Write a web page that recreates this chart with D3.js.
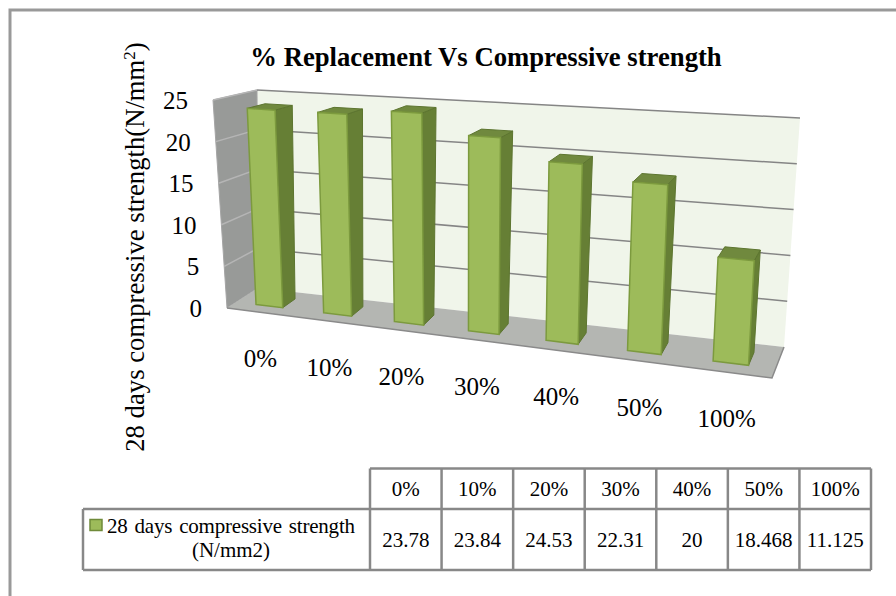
<!DOCTYPE html>
<html>
<head>
<meta charset="utf-8">
<script src="https://cdn.jsdelivr.net/npm/d3@7"></script>
<style>
  html, body { margin: 0; padding: 0; background: #fff; }
  svg { display: block; }
  text { font-family: "Liberation Serif", serif; fill: #000; }
</style>
</head>
<body>
<div id="chart"></div>
<script>
const categories = ["0%", "10%", "20%", "30%", "40%", "50%", "100%"];
const strength = [23.78, 23.84, 24.53, 22.31, 20, 18.468, 11.125];
const tableLabels = ["23.78", "23.84", "24.53", "22.31", "20", "18.468", "11.125"];
const yTicks = [0, 5, 10, 15, 20, 25];

const width = 896, height = 596;

const svg = d3.select("#chart").append("svg")
  .attr("width", width)
  .attr("height", height);

// outer frame, runs off the picture on the right and at the bottom
svg.append("path")
  .attr("d", "M10,596V10H896")
  .attr("fill", "none")
  .attr("stroke", "#999")
  .attr("stroke-width", 3);

// box of the 3d plot: floor corners and the height vector at each of them
const floor = { fl: [227, 308], fr: [772, 378], bl: [258, 288], br: [784, 347] };
const rise = { fl: [-14, -208], fr: [13, -240], bl: [-1, -198], br: [16, -229] };

const band = d3.scaleBand().domain(categories).range([0, 1]).paddingInner(0.6).paddingOuter(0.3);
const yScale = d3.scaleLinear().domain([0, 25]).range([0, 1]);

// perspective squeeze along the floor
const K = 1.18;
const warp = u => u / (u + K * (1 - u));

function bilerp(c, t, v) {
  return [0, 1].map(i => {
    const front = c.fl[i] + (c.fr[i] - c.fl[i]) * t;
    const back = c.bl[i] + (c.br[i] - c.bl[i]) * t;
    return front + (back - front) * v;
  });
}

function project(u, v, value) {
  const t = warp(u), h = yScale(value);
  const f = bilerp(floor, t, v), r = bilerp(rise, t, v);
  return [f[0] + r[0] * h, f[1] + r[1] * h];
}

const line = d3.line();
const poly = pts => line(pts) + "Z";

const walls = svg.append("g");

walls.append("path")
  .attr("d", poly([project(0, 1, 0), project(1, 1, 0), project(1, 1, 25), project(0, 1, 25)]))
  .attr("fill", "#f0f5ea");

walls.append("path")
  .attr("d", poly([project(0, 0, 0), project(0, 1, 0), project(0, 1, 25), project(0, 0, 25)]))
  .attr("fill", "#989a98")
  .attr("stroke", "#a5a5a5");

walls.append("path")
  .attr("d", poly([project(0, 0, 0), project(1, 0, 0), project(1, 1, 0), project(0, 1, 0)]))
  .attr("fill", "#b4b6b2");

// front edge of the floor
walls.append("path")
  .attr("d", line([project(0, 0, 0), project(1, 0, 0), project(1, 1, 0)]))
  .attr("fill", "none")
  .attr("stroke", "#8a8a8a")
  .attr("stroke-width", 1.5);

// gridlines: pale on the side wall, darker on the back wall
walls.selectAll(".gridSide")
  .data(yTicks.filter(d => d > 0))
  .enter().append("path")
  .attr("class", "gridSide")
  .attr("d", d => line([project(0, 0, d), project(0, 1, d)]))
  .attr("fill", "none")
  .attr("stroke", "#b5b5b5")
  .attr("stroke-width", 1.5);

walls.selectAll(".grid")
  .data(yTicks.filter(d => d > 0))
  .enter().append("path")
  .attr("class", "grid")
  .attr("d", d => line([project(0, 1, d), project(1, 1, d)]))
  .attr("fill", "none")
  .attr("stroke", "#858585")
  .attr("stroke-width", 1.5);

// y tick labels
svg.selectAll(".ytick")
  .data(yTicks)
  .enter().append("text")
  .attr("class", "ytick")
  .attr("x", d => project(0, 0, d)[0] - 25)
  .attr("y", d => project(0, 0, d)[1] + 9)
  .attr("text-anchor", "end")
  .style("font-size", "25px")
  .text(d => d);

// bars
const V0 = 0.3, V1 = 0.72;
const bars = svg.selectAll(".bar")
  .data(categories.map((c, i) => ({ c, value: strength[i] })))
  .enter().append("g")
  .attr("class", "bar");

bars.append("path")
  .attr("d", d => {
    const u = band(d.c) + band.bandwidth();
    return poly([project(u, V0, 0), project(u, V1, 0), project(u, V1, d.value), project(u, V0, d.value)]);
  })
  .attr("fill", "#667f35")
  .attr("stroke", "#5d7530");

bars.append("path")
  .attr("d", d => {
    const a = band(d.c), b = a + band.bandwidth();
    return poly([project(a, V0, d.value), project(b, V0, d.value), project(b, V1, d.value), project(a, V1, d.value)]);
  })
  .attr("fill", "#70893e")
  .attr("stroke", "#5d7530");

bars.append("path")
  .attr("d", d => {
    const a = band(d.c), b = a + band.bandwidth();
    return poly([project(a, V0, 0), project(b, V0, 0), project(b, V0, d.value), project(a, V0, d.value)]);
  })
  .attr("fill", "#9dbb5a")
  .attr("stroke", "#7c9a3e")
  .attr("stroke-width", 1.5);

// category labels under the floor
svg.selectAll(".xlabel")
  .data(categories)
  .enter().append("text")
  .attr("class", "xlabel")
  .attr("x", d => project(band(d) + band.bandwidth() / 2, 0, 0)[0])
  .attr("y", d => project(band(d) + band.bandwidth() / 2, 0, 0)[1] + 55)
  .attr("text-anchor", "middle")
  .style("font-size", "25px")
  .text(d => d);

// titles
svg.append("text")
  .attr("x", 486)
  .attr("y", 66)
  .attr("text-anchor", "middle")
  .style("font-size", "26.7px")
  .style("font-weight", "bold")
  .text("% Replacement Vs Compressive strength");

const yTitle = svg.append("text")
  .attr("transform", "translate(144,247) rotate(-90)")
  .attr("text-anchor", "middle")
  .style("font-size", "26.7px");
yTitle.append("tspan").text("28 days compressive strength(N/mm");
yTitle.append("tspan").attr("dy", -9).style("font-size", "17px").text("2");
yTitle.append("tspan").attr("dy", 9).text(")");

// data table
const tableX = d3.scaleBand().domain(categories).range([370, 871]);
const rowTop = 468.5, rowMid = 509, rowBottom = 570, tableLeft = 83;
const table = svg.append("g")
  .attr("fill", "none")
  .attr("stroke", "#888")
  .attr("stroke-width", 2.5);

table.append("path").attr("d", `M${tableX.range()[0]},${rowTop}H${tableX.range()[1]}`);
table.append("path").attr("d", `M${tableLeft},${rowMid}H${tableX.range()[1]}`);
table.append("path").attr("d", `M${tableLeft},${rowBottom}H${tableX.range()[1]}`);
table.append("path").attr("d", `M${tableLeft},${rowMid}V${rowBottom}`);
table.selectAll(".col")
  .data(categories.concat("end"))
  .enter().append("path")
  .attr("class", "col")
  .attr("d", d => {
    const x = d === "end" ? tableX.range()[1] : tableX(d);
    return `M${x},${rowTop}V${rowBottom}`;
  });

svg.selectAll(".thead")
  .data(categories)
  .enter().append("text")
  .attr("class", "thead")
  .attr("x", d => tableX(d) + tableX.bandwidth() / 2)
  .attr("y", 496)
  .attr("text-anchor", "middle")
  .style("font-size", "21px")
  .text(d => d);

svg.selectAll(".tval")
  .data(categories)
  .enter().append("text")
  .attr("class", "tval")
  .attr("x", d => tableX(d) + tableX.bandwidth() / 2)
  .attr("y", 547)
  .attr("text-anchor", "middle")
  .style("font-size", "21px")
  .text((d, i) => tableLabels[i]);

svg.append("rect")
  .attr("x", 90).attr("y", 519.5)
  .attr("width", 12).attr("height", 11)
  .attr("fill", "#9dbb5a")
  .attr("stroke", "#6f8a3a")
  .attr("stroke-width", 1.5);

svg.append("text")
  .attr("x", 107).attr("y", 533)
  .style("font-size", "21px")
  .style("word-spacing", "2px")
  .attr("textLength", 248)
  .text("28 days compressive strength");

svg.append("text")
  .attr("x", 231).attr("y", 557)
  .attr("text-anchor", "middle")
  .style("font-size", "21px")
  .text("(N/mm2)");
</script>
</body>
</html>
